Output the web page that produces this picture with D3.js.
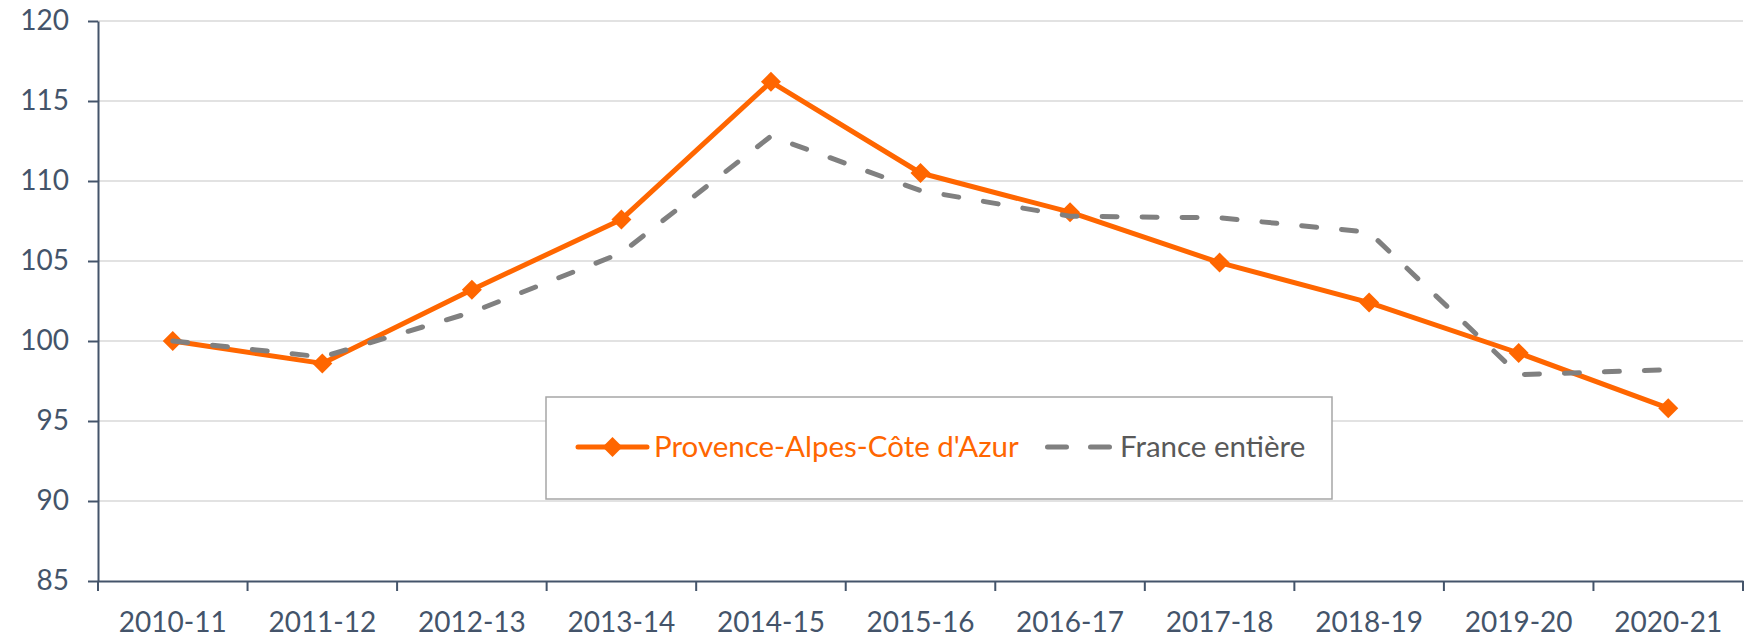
<!DOCTYPE html>
<html>
<head>
<meta charset="utf-8">
<script src="https://cdn.jsdelivr.net/npm/d3@7/dist/d3.min.js"></script>
<style>
body{margin:0;background:#fff;}
svg text{font-family:Lato, "Open Sans", sans-serif;}
</style>
</head>
<body>
<svg id="chart" width="1751" height="637"></svg>
<script>
//années scolaires
var annees = ["2010-11", "2011-12", "2012-13", "2013-14", "2014-15", "2015-16",
	"2016-17", "2017-18", "2018-19", "2019-20", "2020-21"];
//indice base 100 en 2010-11
var paca = [100, 98.6, 103.2, 107.6, 116.2, 110.5, 108.05, 104.9, 102.4, 99.25, 95.8];
var france = [100, 99.0, 101.8, 105.5, 112.8, 109.4, 107.8, 107.7, 106.8, 97.9, 98.2];
var yTicks = [85, 90, 95, 100, 105, 110, 115, 120];
var noms = ["Provence-Alpes-Côte d'Azur", "France entière"];

var orange = "#FF6600";
var gris = "#808080";
var axeCouleur = "#44546A";

var svg = d3.select("#chart");

//zone du graphique
var plot = {left:98, right:1743, top:21, bottom:581};

var x = d3.scaleBand()
	.domain(annees)
	.range([plot.left, plot.right]);
var y = d3.scaleLinear()
	.domain([85, 120])
	.range([plot.bottom, plot.top]);

//lignes de grille
svg.append("g")
	.selectAll("line")
	.data(yTicks.filter(function(d){ return d != 85; }))
	.enter().append("line")
	.attr("x1", plot.left)
	.attr("x2", plot.right)
	.attr("y1", function(d){ return y(d); })
	.attr("y2", function(d){ return y(d); })
	.attr("stroke", "#D9D9D9")
	.attr("stroke-width", 1.5);

//axe y
var gy = svg.append("g")
	.attr("transform", "translate(" + plot.left + ",0)")
	.call(d3.axisLeft(y).tickValues(yTicks).tickSize(10).tickSizeOuter(0).tickPadding(19));
gy.select(".domain").attr("stroke", axeCouleur).attr("stroke-width", 2);
gy.selectAll(".tick line").attr("stroke", axeCouleur).attr("stroke-width", 2);
gy.selectAll(".tick text")
	.attr("fill", axeCouleur)
	.style("font-size", "28px");

//axe x
var gx = svg.append("g")
	.attr("transform", "translate(0," + plot.bottom + ")")
	.call(d3.axisBottom(x).tickSize(0).tickSizeOuter(0).tickPadding(31));
gx.select(".domain").attr("stroke", axeCouleur).attr("stroke-width", 2);
gx.selectAll(".tick text")
	.attr("fill", axeCouleur)
	.style("font-size", "28px");
//graduations entre les catégories
gx.selectAll(".sep")
	.data(d3.range(annees.length + 1))
	.enter().append("line")
	.attr("class", "sep")
	.attr("x1", function(i){ return plot.left + i*x.step(); })
	.attr("x2", function(i){ return plot.left + i*x.step(); })
	.attr("y1", 0)
	.attr("y2", 10)
	.attr("stroke", axeCouleur)
	.attr("stroke-width", 2);

function cx(d, i){
	return x(annees[i]) + x.bandwidth()/2;
}
var line = d3.line()
	.x(cx)
	.y(function(d){ return y(d); });

var losange = d3.symbol().type(d3.symbolSquare).size(200);

//série PACA
svg.append("path")
	.datum(paca)
	.attr("d", line)
	.attr("fill", "none")
	.attr("stroke", orange)
	.attr("stroke-width", 5)
	.attr("stroke-linejoin", "round");
svg.append("g")
	.selectAll("path")
	.data(paca)
	.enter().append("path")
	.attr("d", losange)
	.attr("transform", function(d, i){
		return "translate(" + cx(d, i) + "," + y(d) + ") rotate(45)";
	})
	.attr("fill", orange);

//série France
svg.append("path")
	.datum(france)
	.attr("d", line)
	.attr("fill", "none")
	.attr("stroke", gris)
	.attr("stroke-width", 5)
	.attr("stroke-dasharray", "15,25")
	.attr("stroke-linecap", "round")
	.attr("stroke-linejoin", "round");

//légende
var leg = svg.append("g");
leg.append("rect")
	.attr("x", 546)
	.attr("y", 397)
	.attr("width", 786)
	.attr("height", 102)
	.attr("fill", "#fff")
	.attr("stroke", "#A6A6A6")
	.attr("stroke-width", 1.5);
leg.append("line")
	.attr("x1", 578).attr("x2", 647)
	.attr("y1", 447).attr("y2", 447)
	.attr("stroke", orange)
	.attr("stroke-width", 5)
	.attr("stroke-linecap", "round");
leg.append("path")
	.attr("d", losange)
	.attr("transform", "translate(612.5,447) rotate(45)")
	.attr("fill", orange);
leg.append("text")
	.attr("x", 654)
	.attr("y", 447)
	.attr("dy", "0.35em")
	.attr("fill", orange)
	.style("font-size", "29.5px")
	.text(noms[0]);
leg.append("line")
	.attr("x1", 1047.5).attr("x2", 1111)
	.attr("y1", 447).attr("y2", 447)
	.attr("stroke", gris)
	.attr("stroke-width", 5)
	.attr("stroke-dasharray", "19,24")
	.attr("stroke-linecap", "round");
leg.append("text")
	.attr("x", 1120)
	.attr("y", 447)
	.attr("dy", "0.35em")
	.attr("fill", "#595959")
	.style("font-size", "29.5px")
	.text(noms[1]);
</script>
</body>
</html>
